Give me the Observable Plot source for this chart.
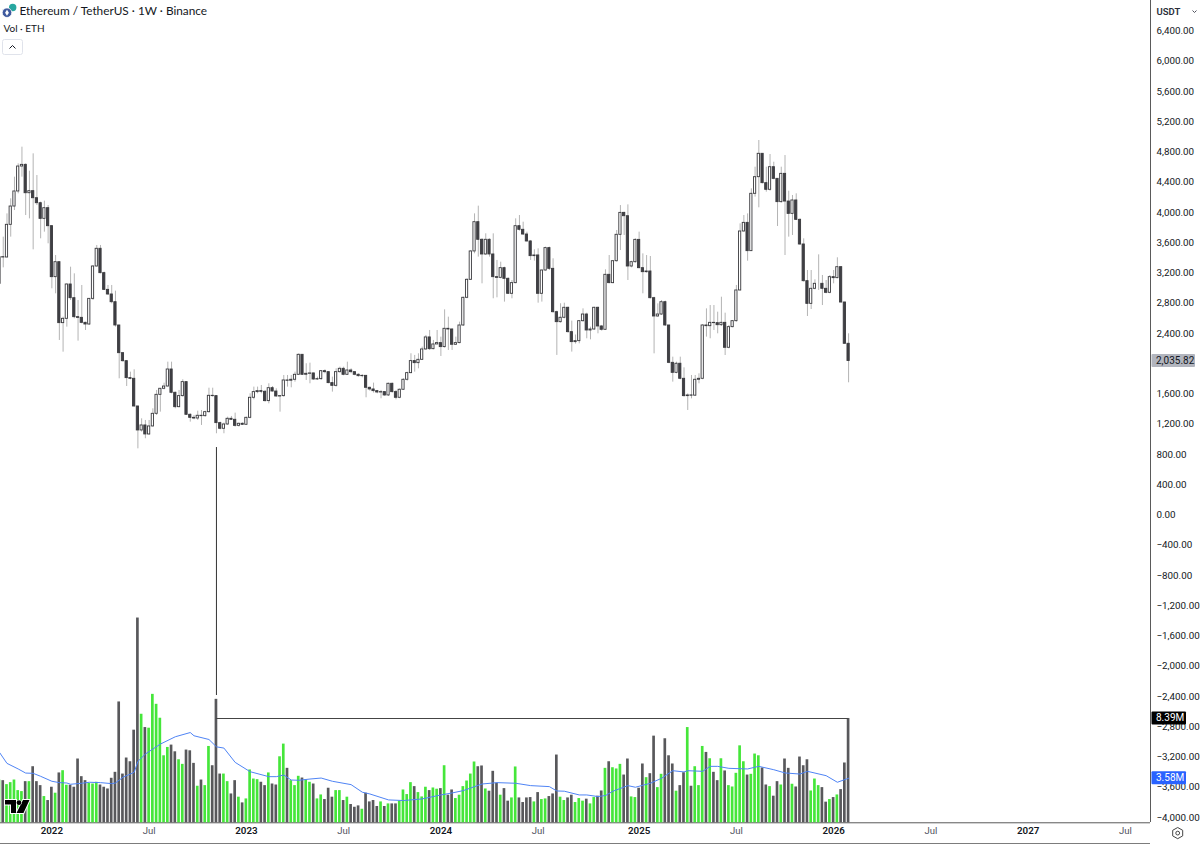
<!DOCTYPE html>
<html>
<head>
<meta charset="utf-8">
<script src="https://cdn.jsdelivr.net/npm/d3@7"></script>
<script src="https://cdn.jsdelivr.net/npm/@observablehq/plot@0.6"></script>
<style>
html,body{margin:0;padding:0;background:#fff;overflow:hidden}
#chart svg{display:block}
</style>
</head>
<body>
<div id="chart"></div>
<script>
// Weekly candles, first week starts 2021-09-27
const firstOpen = 3057;
const closes = [
3409,3405,3837,4079,4278,4608,4630,4255,4282,4189,
4123,3916,4057,3819,3145,3343,2537,2594,3048,2867,
2616,2607,2541,2519,2858,3286,3520,3198,2977,2916,
2814,2506,2140,2034,1810,1801,1435,1118,1184,1065,
1171,1338,1589,1669,1699,1924,1616,1426,1572,1757,
1325,1285,1276,1312,1307,1360,1576,1572,1215,1140,
1197,1272,1259,1179,1206,1193,1285,1550,1625,1638,
1629,1506,1677,1633,1567,1572,1779,1775,1788,1854,
2118,1854,1867,1872,1792,1797,1902,1889,1744,1708,
1889,1933,1854,1911,1889,1854,1836,1840,1682,1660,
1638,1620,1625,1581,1735,1625,1550,1656,1788,1876,
2035,2008,2052,2189,2348,2193,2255,2273,2220,2462,
2453,2251,2273,2506,2872,3110,3485,3872,3639,3445,
3639,3445,3145,3136,3264,3123,2925,3066,3819,3771,
3709,3617,3423,3432,2925,3233,3529,3255,2682,2550,
2608,2740,2418,2286,2299,2563,2651,2440,2453,2740,
2493,2449,3176,3066,3356,3705,3995,3951,3286,3343,
3638,3264,3211,3220,2867,2625,2651,2814,2506,2012,
1880,2000,1801,1572,1581,1578,1788,1801,2506,2497,
2541,2537,2510,2541,2211,2484,2563,2969,3749,3863,
3489,4247,4467,4776,4388,4300,4599,4445,4137,4511,
4145,3982,4159,3903,3577,3092,2792,2991,3057,3057,
2991,2938,3145,3132,3277,2810,2264,2035.82];
const highs = [
3431,3674,3982,4181,4467,4643,4864,4643,4546,4776,
4489,4137,4150,4092,3828,3431,3343,2616,3057,3277,
3189,2836,3035,2550,2858,3299,3564,3564,3211,3035,
3035,2960,2506,2140,2043,1889,1920,1435,1272,1250,
1250,1404,1647,1669,1743,2021,2021,1625,1647,1788,
1757,1338,1316,1373,1382,1373,1677,1677,1580,1228,
1215,1294,1303,1347,1215,1219,1294,1603,1691,1691,
1713,1647,1735,1699,1669,1580,1845,1845,1845,1889,
2131,2118,2000,2008,1876,1823,1911,1920,1889,1823,
1933,1955,1955,2021,1933,1889,1867,1854,1845,1691,
1744,1647,1647,1625,1744,1744,1647,1669,1801,1889,
2132,2110,2132,2220,2374,2440,2308,2440,2352,2713,
2616,2462,2352,2550,2881,3123,3498,3982,4084,3652,
3718,3652,3718,3366,3343,3277,3136,3101,3916,3960,
3872,3740,3630,3507,3520,3242,3542,3542,3388,2696,
2793,2801,2749,2564,2380,2572,2726,2669,2484,2748,
2748,2506,3242,3431,3365,3762,4092,4004,4101,3356,
3652,3740,3453,3431,3418,2880,2792,2836,2828,2506,
2087,2021,2087,1946,1602,1845,1845,1867,2519,2726,
2770,2770,2682,2880,2669,2506,2572,3035,3850,3960,
3982,4313,4599,4952,4776,4599,4767,4665,4445,4599,
4753,4282,4225,4247,3916,3652,3233,3233,3110,3440,
3167,3101,3167,3233,3401,3286,2814,2396];
const lows = [
3035,3268,3400,3674,4026,4247,4467,3960,3916,3506,
4092,3652,3740,3586,2991,2925,2308,2153,2484,2836,
2594,2299,2528,2440,2506,2836,3277,3189,2969,2903,
2792,2484,1801,2021,1699,1788,1426,875,1096,1008,
1052,1162,1316,1360,1655,1691,1602,1404,1417,1558,
1316,1228,1259,1250,1184,1294,1347,1558,1074,1127,
1074,1184,1250,1162,1162,1184,1184,1272,1523,1603,
1603,1492,1470,1625,1558,1360,1558,1691,1682,1757,
1845,1845,1779,1735,1779,1779,1779,1867,1735,1625,
1691,1876,1841,1845,1867,1841,1823,1814,1550,1638,
1612,1603,1537,1567,1567,1612,1523,1537,1647,1770,
1867,1889,1933,2043,2176,2176,2184,2255,2096,2207,
2176,2176,2242,2264,2493,2859,3101,3454,3410,3057,
3432,3410,2859,2872,3123,2815,2916,2859,3057,3753,
3696,3608,3366,3357,2801,2815,3224,3233,2669,2110,
2537,2594,2405,2154,2260,2264,2550,2330,2316,2440,
2396,2431,2440,3057,3057,3343,3497,3696,3101,3268,
3330,3255,2925,3198,2858,2131,2616,2638,2493,2000,
1757,1867,1788,1558,1382,1536,1567,1735,1788,2352,
2330,2440,2396,2493,2109,2197,2475,2550,2960,3740,
3356,3484,4203,4062,4379,4269,4282,4432,3815,4123,
3431,3674,3696,3894,3564,3079,2625,2717,2977,2969,
2770,2925,2925,3057,3123,2801,2255,1748];
// Volume, millions of ETH
const volumes = [
3.44,3.39,3.07,3.23,3.44,2.59,2.51,3.31,3.31,4.51,
3.31,2.99,2.11,1.79,2.86,2.38,4.01,4.19,3.02,3.02,
2.86,5.13,3.71,3.39,3.18,3.12,3.26,3.04,2.86,2.72,
3.58,4.06,9.72,3.92,5.21,4.91,7.45,16.47,8.73,7.66,
7.61,10.33,9.53,8.41,5.39,6.06,6.25,5.71,5.07,4.70,
5.85,5.79,4.78,2.94,3.44,2.99,6.14,4.59,9.93,3.92,
3.92,3.31,2.32,3.39,2.06,1.60,1.92,4.25,3.52,3.47,
3.26,2.99,4.01,3.12,3.04,5.31,6.33,4.38,3.39,2.99,
3.74,3.60,3.44,3.26,3.12,1.92,2.24,1.87,2.78,2.06,
2.59,2.59,1.79,2.06,1.47,1.25,1.36,1.09,2.38,1.68,
1.79,1.31,1.68,1.31,1.52,1.52,1.52,1.74,2.64,2.27,
3.23,2.91,2.43,2.08,2.86,2.59,2.80,2.70,2.75,4.59,
2.22,2.64,1.95,2.22,2.91,3.36,3.92,4.89,4.51,4.57,
2.72,2.54,4.14,3.18,2.22,2.75,1.74,2.00,4.49,2.00,
1.63,2.00,2.03,1.68,2.43,1.87,1.92,2.11,2.32,5.45,
2.06,1.79,2.00,2.22,1.63,1.95,1.74,1.90,1.52,2.03,
2.14,2.56,4.38,4.91,4.43,4.33,4.70,3.84,5.13,2.08,
2.03,2.78,4.73,3.63,3.95,6.97,2.83,3.90,6.76,5.39,
4.73,2.54,2.99,4.03,7.66,2.94,4.51,2.99,6.14,5.66,
5.15,4.06,3.39,5.15,4.17,2.99,2.88,3.98,6.19,4.91,
3.84,3.90,5.53,5.39,4.41,3.04,2.91,2.14,3.31,3.04,
5.13,4.38,3.10,2.88,5.29,4.59,5.07,2.56,3.52,2.99,
2.83,1.66,1.87,2.03,2.24,2.67,4.81,8.39];
// Volume moving average, read at these week numbers
const maWeeks = [0,2,5,7,9,11,14,16,18,19,22,24,27,30,31,33,36,37,39,43,47,51,52,56,58,60,63,67,72,74,76,78,80,83,86,89,94,97,99,104,108,113,118,121,124,129,133,138,142,147,149,151,155,157,160,162,164,168,170,174,177,180,183,184,188,190,192,195,200,203,207,210,214,216,221,224,227];
const maValues = [5.66,4.78,4.33,4.00,3.98,3.74,3.34,3.23,3.20,3.10,3.18,3.26,3.23,3.15,3.20,3.66,4.06,4.94,5.53,6.33,6.92,7.26,7.00,6.70,6.11,6.01,4.86,4.11,3.71,3.71,3.84,3.44,3.42,3.52,3.60,3.34,3.07,2.46,2.32,1.84,1.79,1.92,2.24,2.40,2.59,3.12,3.23,3.18,2.99,2.91,2.56,2.54,2.24,2.24,2.11,2.19,2.54,2.99,2.86,3.18,3.58,4.19,4.09,4.19,4.14,4.54,4.54,4.38,4.33,4.54,4.27,4.01,3.92,4.14,3.79,3.26,3.58];

// 2,000.00 sits behind the last-price tag in the reference, so it has no label
const priceTicks = d3.range(-4000, 6401, 400).filter(d => d !== 2000);
const yearTicks = ["2022-01-03","2023-01-02","2024-01-01","2025-01-06","2026-01-05","2027-01-04"].map(d => new Date(d));
const julyTicks = ["2022-07-04","2023-07-03","2024-07-01","2025-07-07","2026-07-06","2027-07-05"].map(d => new Date(d));

const week = k => new Date(Date.UTC(2021, 8, 27 + 7 * k));
const dayShift = (d, n) => new Date(+d + n * 864e5);
const opens = [firstOpen, ...closes.slice(0, -1)];
const candles = closes.map((c, k) => ({date: week(k), o: opens[k], h: highs[k], l: lows[k], c, v: volumes[k], up: c >= opens[k]}));
const maLine = maWeeks.map((k, i) => ({date: week(k), v: maValues[i]}));

// The volume pane shares the price axis: volume is drawn on a fixed offset and factor.
const volBase = -4070, volFactor = 164.4;
const volY = v => volBase + v * volFactor;

const GREEN = "#45e63a", GREY = "#58585b", INK = "#131722", BLUE = "#2962ff";
const FONT = "Roboto, sans-serif";
const TITLE_FONT = "Lato, sans-serif";
const bodyDays = 2.1, volDays = 2.5;
const spike = week(58), last = week(227);

const tags = (i, s) => {
  const g = d3.create("svg:g").style("font-family", FONT).style("font-size", "10px").attr("text-anchor", "start");
  const tag = (val, label, bg, fg, right) => {
    const y = s.y(val);
    g.append("rect").attr("x", 1151.5).attr("y", y - 6.5).attr("width", right - 1151.5).attr("height", 13).attr("rx", 1).attr("fill", bg);
    g.append("text").attr("x", 1156).attr("y", y + 3.5).attr("text-anchor", "start").attr("fill", fg).text(label);
  };
  tag(2035.82, "2,035.82", "#b2b5be", INK, 1195);
  tag(volY(8.39), "8.39M", "#000", "#fff", 1186);
  tag(volY(3.58), "3.58M", BLUE, "#fff", 1186);
  return g.node();
};

const chrome = () => {
  const g = d3.create("svg:g").style("font-family", FONT);
  // symbol logo
  g.append("circle").attr("cx", 12.7).attr("cy", 7.5).attr("r", 3.7).attr("fill", "#27a7a0");
  g.append("circle").attr("cx", 7).attr("cy", 12.7).attr("r", 4.8).attr("fill", "#3f5a9e").attr("stroke", "#fff").attr("stroke-width", 0.8);
  g.append("path").attr("d", "M7 9.8l1.9 3-1.9 3-1.9-3z").attr("fill", "#fff");
  // collapse button
  g.append("rect").attr("x", 2.5).attr("y", 39.5).attr("width", 20).attr("height", 15).attr("rx", 2).attr("fill", "#fff").attr("stroke", "#e0e3eb");
  g.append("path").attr("d", "M9.5 48.5l3-3 3 3").attr("fill", "none").attr("stroke", INK).attr("stroke-width", 1);
  // currency control
  g.append("path").attr("d", "M1192.5 10.5l2 2 2-2").attr("fill", "none").attr("stroke", "#50535e").attr("stroke-width", 1);
  // TradingView mark
  g.append("path").attr("d", "M5 800h11v13h-5v-8.500h-6zM23 800h6.500l-6 13h-7z").attr("fill", "#000").attr("stroke", "#fff").attr("stroke-width", 2).attr("paint-order", "stroke");
  g.append("circle").attr("cx", 19).attr("cy", 802.7).attr("r", 2.4).attr("fill", "#000").attr("stroke", "#fff").attr("stroke-width", 1).attr("paint-order", "stroke");
  // settings icon
  g.append("path").attr("d", "M1177.700 827.500l5 2.800v5.600l-5 2.800-5-2.800v-5.600z").attr("fill", "none").attr("stroke", "#444").attr("stroke-width", 1);
  g.append("circle").attr("cx", 1177.7).attr("cy", 833.1).attr("r", 1.9).attr("fill", "none").attr("stroke", "#444");
  return g.node();
};

const chart = Plot.plot({
  width: 1200, height: 844,
  marginLeft: 0, marginRight: 50, marginTop: 0, marginBottom: 22,
  style: {background: "#fff", fontFamily: FONT, overflow: "hidden"},
  x: {type: "utc", domain: [new Date("2021-09-27"), new Date("2027-08-21")], range: [-1, 1150], axis: null},
  y: {domain: [-4357, 6803.3], range: [844, 0], axis: null},
  marks: [
    // frame lines
    Plot.ruleY([-4070], {stroke: "#5a5a5a", strokeWidth: 1}),
    Plot.ruleY([-4344], {stroke: "#7a7a7a", strokeWidth: 1}),
    // volume
    Plot.rect(candles, {
      x1: d => dayShift(d.date, -volDays), x2: d => dayShift(d.date, volDays),
      y1: volBase, y2: d => volY(d.v), fill: d => d.up ? GREEN : GREY
    }),
    Plot.line(maLine, {x: "date", y: d => volY(d.v), stroke: "#4f84f5", strokeWidth: 1, curve: "linear"}),
    // annotations
    Plot.ruleX([spike], {y1: 892, y2: -2387, stroke: "#333", strokeWidth: 1}),
    Plot.ruleY([volY(8.39)], {x1: spike, x2: last, stroke: "#444", strokeWidth: 1.2}),
    // candles
    Plot.ruleX(candles, {x: "date", y1: "l", y2: "h", stroke: "#b4b4b4", strokeWidth: 1}),
    Plot.rect(candles, {
      x1: d => dayShift(d.date, -bodyDays), x2: d => dayShift(d.date, bodyDays),
      y1: "o", y2: "c", fill: d => d.up ? "#fff" : "#3f3f44", stroke: "#3a3a3e", strokeWidth: 0.9
    }),
    // axes
    Plot.ruleX([new Date("2027-08-21")], {stroke: "#5a5a5a", strokeWidth: 1}),
    Plot.axisY({ticks: priceTicks, anchor: "right", tickSize: 0, tickPadding: 6, tickFormat: d3.format(",.2f"), label: null, fontSize: 9.8, fill: INK}),
    Plot.axisX({ticks: yearTicks, anchor: "bottom", tickSize: 0, tickPadding: 5, tickFormat: d3.utcFormat("%Y"), label: null, fontSize: 9.8, fontWeight: 600, fill: INK}),
    Plot.axisX({ticks: julyTicks, anchor: "bottom", tickSize: 0, tickPadding: 5, tickFormat: d3.utcFormat("%b"), label: null, fontSize: 9.5, fill: "#50535e"}),
    // heading
    Plot.text(["Ethereum / TetherUS · 1W · Binance"], {frameAnchor: "top-left", dx: 19, dy: 6.5, textAnchor: "start", fontFamily: TITLE_FONT, fontSize: 11.8, fill: INK}),
    Plot.text(["Vol · ETH"], {frameAnchor: "top-left", dx: 3, dy: 24, textAnchor: "start", fontFamily: TITLE_FONT, fontSize: 10, fill: INK}),
    Plot.text(["USDT"], {frameAnchor: "top-left", dx: 1156, dy: 7.5, textAnchor: "start", fontSize: 9.5, fontWeight: 600, fill: "#2a2e39"}),
    tags, chrome
  ]
});
document.getElementById("chart").append(chart);
</script>
</body>
</html>
